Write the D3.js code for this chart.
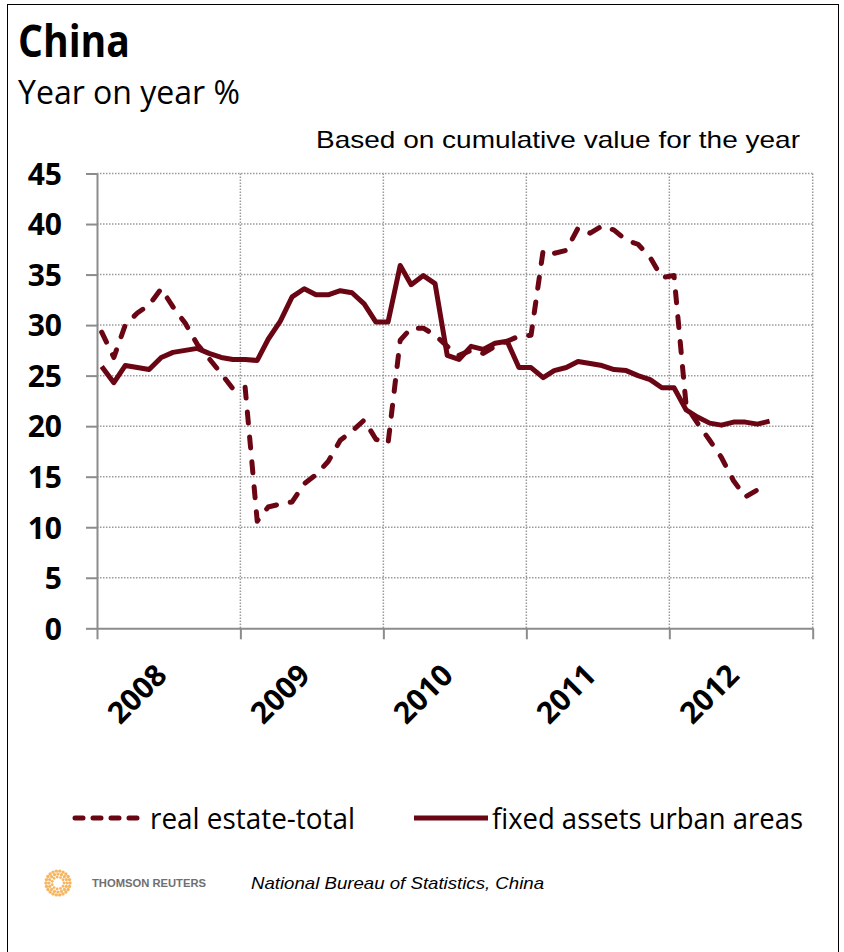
<!DOCTYPE html>
<html>
<head>
<meta charset="utf-8">
<script src="https://cdn.jsdelivr.net/npm/d3@7"></script>
<style>
  html, body { margin: 0; padding: 0; background: #fff; }
  svg { display: block; }
</style>
</head>
<body>
<svg id="chart" width="844" height="952"></svg>
<script>
// Monthly observations, January 2008 onwards (year-on-year %, cumulative basis)
const firstMonth = new Date(2008, 0, 13);

const realEstateTotal = [
  29.3, 26.8, 30.0, 31.2, 32.0, 33.6, 31.8, 30.2, 28.1, 26.7, 25.2, 23.7,
  23.9, 10.6, 12.0, 12.3, 12.5, 14.3, 15.2, 16.5, 18.6, 19.5, 20.6, 18.7,
  18.3, 28.5, 29.7, 29.7, 29.0, 27.9, 27.0, 27.5, 27.2, 27.9, 28.4, 28.9,
  29.0, 37.4, 37.1, 37.4, 39.6, 39.1, 39.8, 39.4, 38.4, 38.0, 36.7, 34.7,
  34.9, 22.0, 20.3, 18.6, 16.9, 14.6, 13.0, 13.7
];

const fixedAssetsUrban = [
  25.9, 24.3, 26.0, 25.8, 25.6, 26.8, 27.3, 27.5, 27.7, 27.2, 26.8, 26.6,
  26.6, 26.5, 28.6, 30.4, 32.8, 33.6, 33.0, 33.0, 33.4, 33.2, 32.1, 30.3,
  30.3, 35.9, 34.0, 34.9, 34.1, 27.0, 26.6, 27.9, 27.6, 28.2, 28.4, 25.8,
  25.8, 24.8, 25.5, 25.8, 26.4, 26.2, 26.0, 25.6, 25.5, 25.0, 24.6, 23.8,
  23.8, 21.6, 20.9, 20.3, 20.1, 20.4, 20.4, 20.2, 20.5
];

const yearLabels = ["2008", "2009", "2010", "2011", "2012"];
const yTicks = [0, 5, 10, 15, 20, 25, 30, 35, 40, 45];

const seriesNames = ["real estate-total", "fixed assets urban areas"];

const lineColor = "#6a0514";
const gridColor = "#9a9a9a";
const axisColor = "#8c8c8c";

const svg = d3.select("#chart");

// outer frame
svg.append("rect")
  .attr("x", 7.5).attr("y", 4.5)
  .attr("width", 831).attr("height", 960)
  .attr("fill", "#fff")
  .attr("stroke", "#000").attr("stroke-width", 1);

// scales
const x = d3.scaleTime()
  .domain([new Date(2008, 0, 1), new Date(2013, 0, 1)])
  .range([97, 812.7]);
const y = d3.scaleLinear().domain([0, 45]).range([628.3, 173.5]);

const toPoints = arr => arr.map((v, i) => ({ date: d3.timeMonth.offset(firstMonth, i), v }));

// headings
svg.append("text")
  .attr("x", 18).attr("y", 57)
  .attr("font-family", "'Open Sans', sans-serif")
  .attr("font-weight", 700).attr("font-size", 44)
  .attr("textLength", 112).attr("lengthAdjust", "spacingAndGlyphs")
  .attr("fill", "#000")
  .text("China");

svg.append("text")
  .attr("x", 18).attr("y", 104)
  .attr("font-family", "'Open Sans', sans-serif")
  .attr("font-size", 32)
  .attr("textLength", 222).attr("lengthAdjust", "spacingAndGlyphs")
  .attr("fill", "#000")
  .text("Year on year %");

svg.append("text")
  .attr("x", 316).attr("y", 148)
  .attr("font-family", "'Liberation Sans', Arial, sans-serif")
  .attr("font-size", 24)
  .attr("textLength", 484).attr("lengthAdjust", "spacingAndGlyphs")
  .attr("fill", "#000")
  .text("Based on cumulative value for the year");

// gridlines
const grid = svg.append("g").attr("stroke", gridColor).attr("stroke-width", 1.5)
  .attr("stroke-dasharray", "1.5,1.5").attr("fill", "none");

grid.selectAll("line.h")
  .data(yTicks.filter(t => t > 0))
  .join("line")
  .attr("class", "h")
  .attr("x1", x.range()[0]).attr("x2", x.range()[1])
  .attr("y1", d => y(d)).attr("y2", d => y(d));

const yearStarts = d3.range(2009, 2014).map(yr => new Date(yr, 0, 1));
grid.selectAll("line.v")
  .data(yearStarts)
  .join("line")
  .attr("class", "v")
  .attr("x1", d => x(d)).attr("x2", d => x(d))
  .attr("y1", y(45)).attr("y2", y(0));

// y axis
const yAxis = svg.append("g")
  .attr("transform", `translate(${x.range()[0]},0)`)
  .call(d3.axisLeft(y).tickValues(yTicks).tickSize(11).tickSizeOuter(0).tickPadding(24));
yAxis.select(".domain").attr("stroke", axisColor).attr("stroke-width", 2);
yAxis.selectAll(".tick line").attr("stroke", axisColor).attr("stroke-width", 2);
yAxis.selectAll(".tick text")
  .attr("font-family", "'Open Sans', sans-serif")
  .attr("font-weight", 700).attr("font-size", 30)
  .attr("fill", "#000")
  .attr("dy", "0.36em");

// x axis
const xAxis = svg.append("g")
  .attr("transform", `translate(0,${y(0)})`)
  .call(d3.axisBottom(x)
    .tickValues(d3.range(2008, 2014).map(yr => new Date(yr, 0, 1)))
    .tickSize(11).tickSizeOuter(0).tickFormat(""));
xAxis.select(".domain").attr("stroke", axisColor).attr("stroke-width", 2);
xAxis.selectAll(".tick line").attr("stroke", axisColor).attr("stroke-width", 2);

svg.append("g").selectAll("text")
  .data(yearLabels)
  .join("text")
  .attr("transform", d => {
    const cx = (x(new Date(+d, 0, 1)) + x(new Date(+d + 1, 0, 1))) / 2;
    return `translate(${cx},677) rotate(-45)`;
  })
  .attr("text-anchor", "end")
  .attr("font-family", "'Open Sans', sans-serif")
  .attr("font-weight", 700).attr("font-size", 30)
  .attr("fill", "#000")
  .text(d => d);

// series lines
const line = d3.line().x(d => x(d.date)).y(d => y(d.v));

svg.append("path")
  .datum(toPoints(fixedAssetsUrban))
  .attr("d", line)
  .attr("fill", "none")
  .attr("stroke", lineColor).attr("stroke-width", 5)
  .attr("stroke-linejoin", "round");

svg.append("path")
  .datum(toPoints(realEstateTotal))
  .attr("d", line)
  .attr("fill", "none")
  .attr("stroke", lineColor).attr("stroke-width", 5)
  .attr("stroke-linejoin", "round").attr("stroke-linecap", "round")
  .attr("stroke-dasharray", "11,14");

// legend
const legend = svg.append("g").attr("font-family", "'Open Sans', sans-serif").attr("font-size", 30).attr("fill", "#000");
legend.append("line")
  .attr("x1", 75).attr("x2", 140).attr("y1", 818).attr("y2", 818)
  .attr("stroke", lineColor).attr("stroke-width", 5)
  .attr("stroke-linecap", "round").attr("stroke-dasharray", "8,10");
legend.append("text")
  .attr("x", 150).attr("y", 829)
  .attr("textLength", 205).attr("lengthAdjust", "spacingAndGlyphs")
  .text(seriesNames[0]);
legend.append("line")
  .attr("x1", 414).attr("x2", 488).attr("y1", 818).attr("y2", 818)
  .attr("stroke", lineColor).attr("stroke-width", 5);
legend.append("text")
  .attr("x", 492).attr("y", 829)
  .attr("textLength", 311).attr("lengthAdjust", "spacingAndGlyphs")
  .text(seriesNames[1]);

// source line with logo
const logo = svg.append("g").attr("transform", "translate(58,883)");
const rings = [
  { r: 12, n: 22, s: 1.7 },
  { r: 9, n: 16, s: 1.6 },
  { r: 6, n: 11, s: 1.4 }
];
rings.forEach(ring => {
  logo.selectAll(null)
    .data(d3.range(ring.n))
    .join("circle")
    .attr("cx", k => ring.r * Math.cos(2 * Math.PI * k / ring.n))
    .attr("cy", k => ring.r * Math.sin(2 * Math.PI * k / ring.n))
    .attr("r", ring.s)
    .attr("fill", "#f39c2a")
    .attr("opacity", 0.75);
});

svg.append("text")
  .attr("x", 92).attr("y", 887)
  .attr("font-family", "'Liberation Sans', Arial, sans-serif")
  .attr("font-weight", 700).attr("font-size", 11)
  .attr("textLength", 114).attr("lengthAdjust", "spacingAndGlyphs")
  .attr("fill", "#6f6f6f")
  .text("THOMSON REUTERS");

svg.append("text")
  .attr("x", 251).attr("y", 889)
  .attr("font-family", "'Liberation Sans', Arial, sans-serif")
  .attr("font-style", "italic").attr("font-size", 17)
  .attr("textLength", 293).attr("lengthAdjust", "spacingAndGlyphs")
  .attr("fill", "#000")
  .text("National Bureau of Statistics, China");
</script>
</body>
</html>
